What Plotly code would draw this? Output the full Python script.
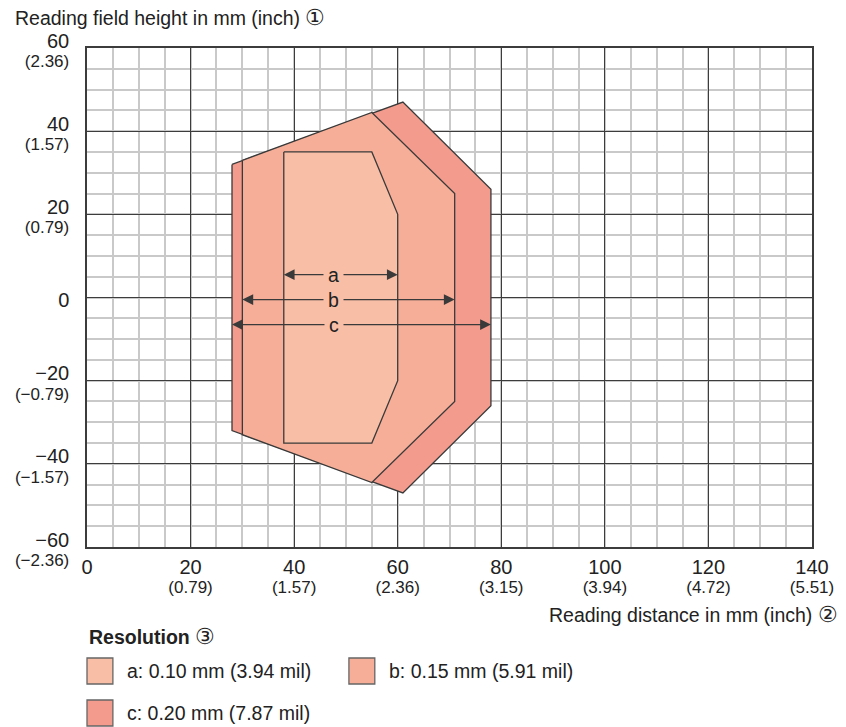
import plotly.graph_objects as go

# ---- data -------------------------------------------------------------
# Reading field outlines (distance mm, field height mm) per resolution
field_a_x = [38, 55, 60, 60, 55, 38]
field_a_y = [35, 35, 20, -20, -35, -35]
field_b_x = [30, 55, 71, 71, 55, 30]
field_b_y = [33, 44.5, 25, -25, -44.5, -33]
field_c_x = [28, 61, 78, 78, 61, 28]
field_c_y = [32, 47, 26, -26, -47, -32]

# Width markers: (label, left end, right end, height)
width_labels = ["a", "b", "c"]
width_left = [38, 30, 28]
width_right = [60, 71, 78]
width_height = [5.5, -0.5, -6.5]
width_label_x = 47.6

legend_labels = ["a: 0.10 mm (3.94 mil)", "b: 0.15 mm (5.91 mil)", "c: 0.20 mm (7.87 mil)"]

x_ticks_mm = [0, 20, 40, 60, 80, 100, 120, 140]
x_ticks_inch = ["", "0.79", "1.57", "2.36", "3.15", "3.94", "4.72", "5.51"]
y_ticks_mm = [-60, -40, -20, 0, 20, 40, 60]
y_ticks_inch = ["\u22122.36", "\u22121.57", "\u22120.79", "", "0.79", "1.57", "2.36"]

# ---- styling ----------------------------------------------------------
FONT = "Liberation Sans, Arial, sans-serif"
TEXT = "#222222"
EDGE = "#3a3a3a"
FILL = {"a": "#F9BEA6", "b": "#F6AE98", "c": "#F39B8C"}
TXT_SIZE = 19.5
W, H = 846, 727
PL, PR, PT, PB = 87, 815, 48, 547  # plot area in pixels


def px_x(px):
    return (px - PL) / (PR - PL)


def px_y(py):
    return (PB - py) / (PB - PT)


def circled(ch):
    return f"<span style='font-size:22px'>{ch}</span>"


def mm_label(v):
    s = str(v) if v >= 0 else "\u2212" + str(-v)
    return f"<span style='font-size:20px'>{s}</span>"


def tick_text(vals, inch):
    out = []
    for v, i in zip(vals, inch):
        t = mm_label(v)
        if i:
            t += f"<br><span style='font-size:17px'>({i})</span>"
        out.append(t)
    return out


fig = go.Figure()

for key, xs, ys in (("c", field_c_x, field_c_y),
                    ("b", field_b_x, field_b_y),
                    ("a", field_a_x, field_a_y)):
    fig.add_trace(go.Scatter(
        x=xs + xs[:1], y=ys + ys[:1], mode="lines", fill="toself",
        fillcolor=FILL[key], line=dict(color=EDGE, width=1.3),
        hoverinfo="skip", showlegend=False))

annotations = []
for lab, x0, x1, yy in zip(width_labels, width_left, width_right, width_height):
    for tip in (x0, x1):
        annotations.append(dict(
            x=tip, y=yy, ax=width_label_x, ay=yy, xref="x", yref="y",
            axref="x", ayref="y", text="", showarrow=True,
            arrowhead=2, arrowsize=1.8, arrowwidth=1.2, arrowcolor=EDGE,
            standoff=0, startstandoff=0))
    annotations.append(dict(
        x=width_label_x, y=yy, xref="x", yref="y", text=lab,
        showarrow=False, bgcolor=FILL["a"], borderpad=4,
        font=dict(family=FONT, size=TXT_SIZE, color=TEXT)))

# axis titles
annotations.append(dict(
    x=px_x(13), y=px_y(17), xref="paper", yref="paper",
    xanchor="left", yanchor="middle", showarrow=False,
    text="Reading field height in mm (inch) " + circled("\u2460"),
    font=dict(family=FONT, size=TXT_SIZE, color=TEXT)))
annotations.append(dict(
    x=px_x(843), y=px_y(614), xref="paper", yref="paper",
    xanchor="right", yanchor="middle", showarrow=False,
    text="Reading distance in mm (inch) " + circled("\u2461"),
    font=dict(family=FONT, size=TXT_SIZE, color=TEXT)))

# resolution key
annotations.append(dict(
    x=px_x(87), y=px_y(636), xref="paper", yref="paper",
    xanchor="left", yanchor="middle", showarrow=False,
    text="<b>Resolution</b> " + circled("\u2462"),
    font=dict(family=FONT, size=TXT_SIZE, color=TEXT)))

shapes = []
key_pos = [(87, 671), (350, 671), (87, 713)]
for lab, key, (kx, ky) in zip(legend_labels, ("a", "b", "c"), key_pos):
    shapes.append(dict(
        type="rect", xref="paper", yref="paper",
        x0=px_x(kx), x1=px_x(kx + 26), y0=px_y(ky - 13), y1=px_y(ky + 13),
        fillcolor=FILL[key], line=dict(color="#666666", width=1.3)))
    annotations.append(dict(
        x=px_x(kx + 38), y=px_y(ky), xref="paper", yref="paper",
        xanchor="left", yanchor="middle", showarrow=False, text=lab,
        font=dict(family=FONT, size=TXT_SIZE, color=TEXT)))

axis_common = dict(
    showgrid=True, gridcolor="#3c3c3c", gridwidth=1.2,
    minor=dict(dtick=5, showgrid=True, gridcolor="#c9c9c9", gridwidth=1.5),
    showline=True, linecolor="#3c3c3c", linewidth=1.5, mirror=True,
    zeroline=False, ticks="", fixedrange=True,
    tickfont=dict(family=FONT, size=15, color=TEXT),
)

fig.update_layout(
    width=W, height=H, margin=dict(l=PL, r=W - PR, t=PT, b=H - PB),
    paper_bgcolor="white", plot_bgcolor="white",
    xaxis=dict(range=[0, 140], tickvals=x_ticks_mm,
               ticktext=tick_text(x_ticks_mm, x_ticks_inch),
               tick0=0, dtick=20, ticklabelstandoff=7, **axis_common),
    yaxis=dict(range=[-60, 60], tickvals=y_ticks_mm,
               ticktext=tick_text(y_ticks_mm, y_ticks_inch),
               tick0=-60, dtick=20, ticklabelstandoff=13,
               ticklabelshift=4, **axis_common),
    annotations=annotations, shapes=shapes, showlegend=False,
)

fig.write_html("out.html")
